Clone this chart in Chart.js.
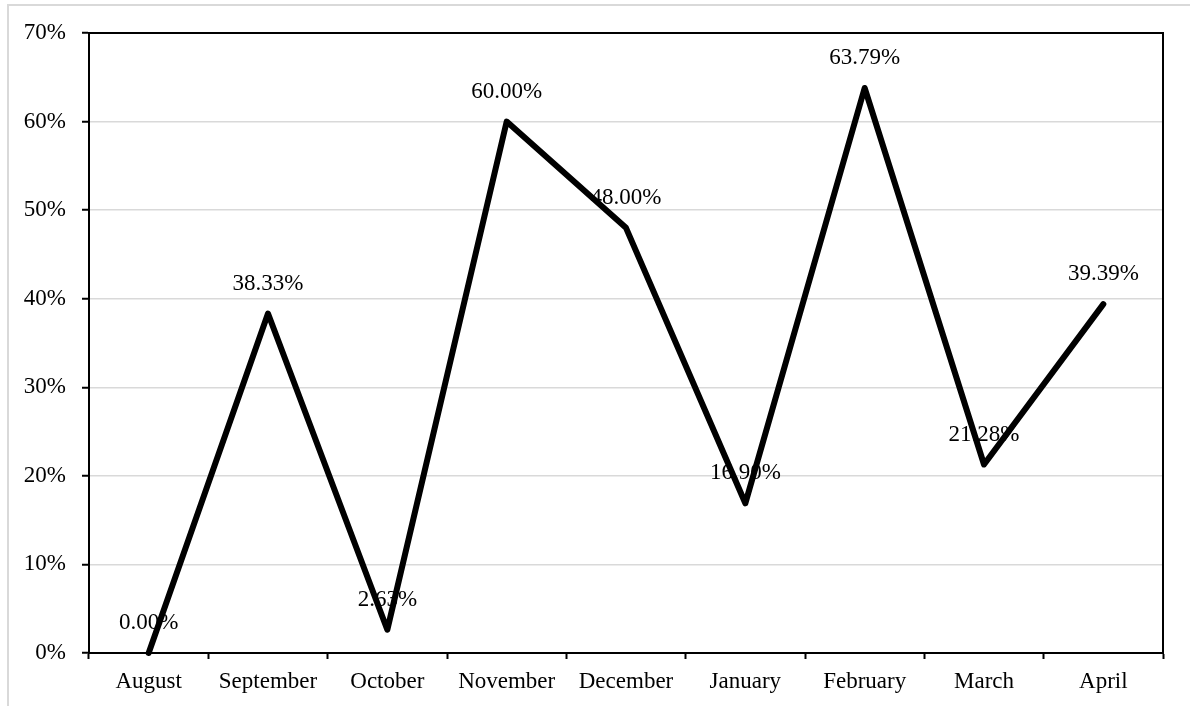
<!DOCTYPE html>
<html>
<head>
<meta charset="utf-8">
<script src="https://cdn.jsdelivr.net/npm/chart.js@4/dist/chart.umd.min.js"></script>
<style>
html,body{margin:0;padding:0;background:#fff;}
#wrap{position:relative;width:1190px;height:706px;}
</style>
</head>
<body>
<div id="wrap"><canvas id="c" width="1190" height="706"></canvas></div>
<script>
const categories = ["August","September","October","November","December","January","February","March","April"];
const values = [0, 38.33, 2.63, 60.00, 48.00, 16.90, 63.79, 21.28, 39.39];
const yTicks = [0, 10, 20, 30, 40, 50, 60, 70];

const FONT = "'Liberation Serif', 'Times New Roman', serif";
const FSIZE = 23;

const framePlugin = {
  id: 'frame',
  beforeDraw(chart) {
    const ctx = chart.ctx;
    ctx.save();
    ctx.strokeStyle = '#d9d9d9';
    ctx.lineWidth = 2;
    ctx.strokeRect(8, 5, 1300, 900);
    ctx.restore();
  },
  afterDatasetsDraw(chart) {
    const ctx = chart.ctx;
    const a = chart.chartArea;
    ctx.save();
    ctx.strokeStyle = '#000';
    ctx.lineWidth = 2;
    ctx.beginPath();
    ctx.moveTo(a.left, a.top);
    ctx.lineTo(a.right, a.top);
    ctx.lineTo(a.right, a.bottom);
    ctx.stroke();
    const meta = chart.getDatasetMeta(0);
    ctx.fillStyle = '#000';
    ctx.font = FSIZE + 'px ' + FONT;
    ctx.textAlign = 'center';
    ctx.textBaseline = 'middle';
    meta.data.forEach((pt, i) => {
      const v = chart.data.datasets[0].data[i];
      ctx.fillText(v.toFixed(2) + '%', pt.x, pt.y - 30);
    });
    ctx.restore();
  }
};

new Chart(document.getElementById('c'), {
  type: 'line',
  data: {
    labels: categories,
    datasets: [{
      data: values,
      borderColor: '#000',
      borderWidth: 6,
      borderCapStyle: 'round',
      borderJoinStyle: 'round',
      tension: 0,
      pointRadius: 0,
      pointHoverRadius: 0,
      fill: false,
      clip: false
    }]
  },
  options: {
    responsive: false,
    animation: false,
    devicePixelRatio: 1,
    layout: { padding: { left: 0, right: 27, top: 33, bottom: 0 } },
    plugins: { legend: { display: false }, tooltip: { enabled: false } },
    events: [],
    scales: {
      x: {
        offset: true,
        grid: { offset: true, drawOnChartArea: false, drawTicks: true, tickLength: 6, tickColor: '#000', tickWidth: 2 },
        border: { color: '#000', width: 2 },
        ticks: { color: '#000', font: { family: FONT, size: FSIZE }, padding: 9, maxRotation: 0, autoSkip: false },
        afterFit(s) { s.height = 53; }
      },
      y: {
        min: 0, max: 70,
        afterBuildTicks(s) { s.ticks = yTicks.map(v => ({ value: v })); },
        grid: { color: '#d9d9d9', lineWidth: 1.5, tickLength: 7, tickColor: '#000', tickWidth: 2 },
        border: { color: '#000', width: 2 },
        ticks: { color: '#000', font: { family: FONT, size: FSIZE }, padding: 16, callback: v => v + '%' },
        afterFit(s) { s.width = 89; }
      }
    }
  },
  plugins: [framePlugin]
});
</script>
</body>
</html>
